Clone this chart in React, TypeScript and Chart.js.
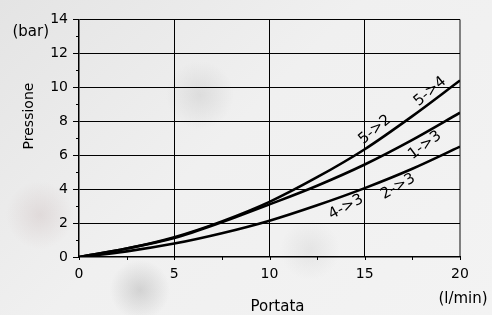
import React, { useEffect, useRef } from "react";
import { Chart, registerables } from "chart.js";

Chart.register(...registerables);

// Data (flow in l/min, pressure in bar)
const flow = [0, 2.5, 5, 7.5, 10, 12.5, 15, 17.5, 20];
const p54 = [0, 0.5, 1.17, 2.1, 3.25, 4.7, 6.35, 8.3, 10.4]; // 5->4 and 5->2
const p13 = [0, 0.5, 1.12, 2.05, 3.1, 4.2, 5.45, 6.9, 8.5]; // 1->3
const p23 = [0, 0.33, 0.79, 1.4, 2.14, 3.05, 4.06, 5.2, 6.5]; // 2->3 and 4->3

const yTicks = [0, 2, 4, 6, 8, 10, 12, 14];
const xTicks = [0, 5, 10, 15, 20];

// curve labels (text, flow, pressure, angle)
const curveLabels = ["5->4", "5->2", "1->3", "2->3", "4->3"];
const curveLabelFlow = [18.43, 15.54, 18.16, 16.75, 14.02];
const curveLabelPressure = [9.75, 7.5, 6.58, 4.15, 2.94];
const curveLabelAngle = [-40, -40, -37, -30, -28];

const FONT = "'DejaVu Sans', Verdana, sans-serif";

export default function App() {
  const ref = useRef<HTMLCanvasElement | null>(null);

  useEffect(() => {
    document.body.style.margin = "0";
    const canvas = ref.current!;
    const mk = (d: number[]) => flow.map((x, i) => ({ x, y: d[i] }));

    const overlay = {
      id: "overlay",
      afterDatasetsDraw(chart: any) {
        const ctx = chart.ctx;
        const xs = chart.scales.x;
        const ys = chart.scales.y;
        ctx.save();
        ctx.fillStyle = "#000";
        ctx.font = `15px ${FONT}`;
        ctx.textAlign = "center";
        ctx.textBaseline = "middle";
        curveLabels.forEach((t, i) => {
          ctx.save();
          ctx.translate(xs.getPixelForValue(curveLabelFlow[i]), ys.getPixelForValue(curveLabelPressure[i]));
          ctx.rotate((curveLabelAngle[i] * Math.PI) / 180);
          ctx.fillText(t, 0, 0);
          ctx.restore();
        });
        ctx.restore();
      },
      afterDraw(chart: any) {
        const ctx = chart.ctx;
        const a = chart.chartArea;
        const xs = chart.scales.x;
        const ys = chart.scales.y;
        ctx.save();
        ctx.fillStyle = "#000";
        ctx.strokeStyle = "#000";
        // minor/major ticks
        ctx.lineWidth = 1;
        for (let v = 0; v <= 14; v += 1) {
          const y = Math.round(ys.getPixelForValue(v)) + 0.5;
          const len = v % 2 === 0 ? 6 : 3;
          ctx.beginPath();
          ctx.moveTo(a.left - len, y);
          ctx.lineTo(a.left, y);
          ctx.stroke();
        }
        for (let v = 0; v <= 20; v += 2.5) {
          const x = Math.round(xs.getPixelForValue(v)) + 0.5;
          ctx.beginPath();
          ctx.moveTo(x, a.bottom);
          ctx.lineTo(x, a.bottom + 3);
          ctx.stroke();
        }
        // titles
        ctx.font = `15px ${FONT}`;
        ctx.textBaseline = "alphabetic";
        ctx.textAlign = "right";
        ctx.fillText("(bar)", a.left - 30, a.top + 17);
        ctx.textAlign = "center";
        ctx.fillText("Portata", (a.left + a.right) / 2 + 8, a.bottom + 54);
        ctx.fillText("(l/min)", a.right + 3, a.bottom + 46);
        ctx.save();
        ctx.translate(a.left - 46, 116);
        ctx.rotate(-Math.PI / 2);
        ctx.font = `14px ${FONT}`;
        ctx.fillText("Pressione", 0, 0);
        ctx.restore();
        ctx.restore();
      },
    };

    const chart = new Chart(canvas, {
      type: "line",
      data: {
        datasets: [
          { data: mk(p54), borderColor: "#000", borderWidth: 2.6, pointRadius: 0, cubicInterpolationMode: "monotone" },
          { data: mk(p13), borderColor: "#000", borderWidth: 2.6, pointRadius: 0, cubicInterpolationMode: "monotone" },
          { data: mk(p23), borderColor: "#000", borderWidth: 2.6, pointRadius: 0, cubicInterpolationMode: "monotone" },
        ],
      },
      options: {
        responsive: false,
        animation: false,
        events: [],
        layout: { padding: { left: 0, right: 32, top: 15, bottom: 0 } },
        plugins: { legend: { display: false }, tooltip: { enabled: false }, title: { display: false } },
        scales: {
          x: {
            type: "linear",
            min: 0,
            max: 20,
            afterBuildTicks: (s: any) => {
              s.ticks = xTicks.map((v) => ({ value: v }));
            },
            afterFit: (s: any) => {
              s.height = 58;
            },
            ticks: { color: "#000", font: { family: FONT, size: 14 }, padding: 9, maxRotation: 0 },
            grid: {
              drawTicks: false,
              color: (c: any) => (c.tick && c.tick.value === 20 ? "#808080" : c.tick && c.tick.value === 0 ? "rgba(0,0,0,0)" : "#000"),
              lineWidth: (c: any) => (c.tick && c.tick.value === 20 ? 2 : 1),
            },
            border: { display: true, color: "#000", width: 1.5 },
          },
          y: {
            type: "linear",
            min: 0,
            max: 14,
            afterBuildTicks: (s: any) => {
              s.ticks = yTicks.map((v) => ({ value: v }));
            },
            afterFit: (s: any) => {
              s.width = 79;
            },
            ticks: { color: "#000", font: { family: FONT, size: 14 }, padding: 11 },
            grid: {
              drawTicks: false,
              color: (c: any) => (c.tick && c.tick.value === 0 ? "rgba(0,0,0,0)" : "#000"),
              lineWidth: 1,
            },
            border: { display: true, color: "#000", width: 1.5 },
          },
        },
      },
      plugins: [overlay],
    } as any);
    return () => chart.destroy();
  }, []);

  return (
    <div
      style={{
        position: "absolute",
        left: 0,
        top: 0,
        width: 492,
        height: 315,
        background:
          "radial-gradient(circle at 200px 95px, rgba(195,195,195,0.4) 0, rgba(195,195,195,0) 34px)," +
          "radial-gradient(circle at 40px 215px, rgba(205,190,190,0.4) 0, rgba(205,190,190,0) 34px)," +
          "radial-gradient(circle at 140px 290px, rgba(165,165,165,0.4) 0, rgba(165,165,165,0) 30px)," +
          "radial-gradient(circle at 310px 250px, rgba(205,205,205,0.35) 0, rgba(205,205,205,0) 30px)," +
          "linear-gradient(135deg, #e4e4e4 0%, #f0f0f0 45%, #f3f3f3 100%)",
      }}
    >
      <canvas ref={ref} width={492} height={315} style={{ display: "block" }} />
    </div>
  );
}
